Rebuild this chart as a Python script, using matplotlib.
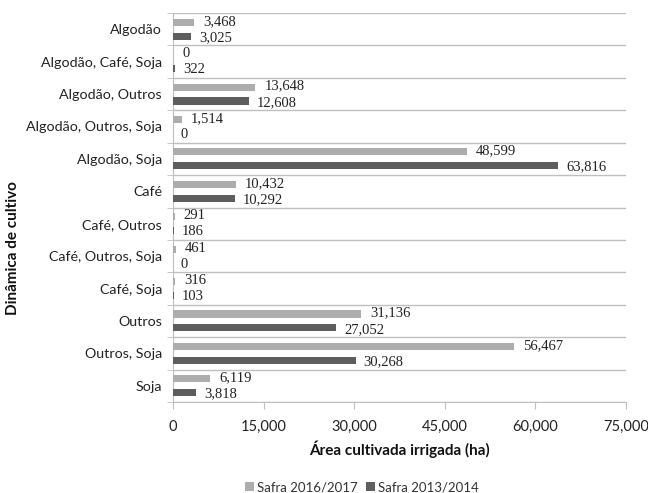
import matplotlib
matplotlib.use("Agg")
import matplotlib.pyplot as plt
import numpy as np
from matplotlib.ticker import FuncFormatter

categories = ["Algodão", "Algodão, Café, Soja", "Algodão, Outros", "Algodão, Outros, Soja",
              "Algodão, Soja", "Café", "Café, Outros", "Café, Outros, Soja", "Café, Soja",
              "Outros", "Outros, Soja", "Soja"]
safra_2016 = [3468, 0, 13648, 1514, 48599, 10432, 291, 461, 316, 31136, 56467, 6119]
safra_2013 = [3025, 322, 12608, 0, 63816, 10292, 186, 0, 103, 27052, 30268, 3818]
xticks = [0, 15000, 30000, 45000, 60000, 75000]

c_light = "#ADADAD"
c_dark = "#5E5E5E"
sans = "Lato"

fig = plt.figure(figsize=(6.48, 4.93), dpi=100)
ax = fig.add_axes([173/648, 1-402/493, (626-173)/648, (402-13)/493])

n = len(categories)
y = np.arange(n)
h = 0.22
off = 0.215
ax.barh(y - off, safra_2016, height=h, color=c_light, label="Safra 2016/2017", zorder=3)
ax.barh(y + off, safra_2013, height=h, color=c_dark, label="Safra 2013/2014", zorder=3)

for yi, v in zip(y, safra_2016):
    ax.text(v + 1500, yi - off - 0.03, f"{v:,}", va="center", ha="left",
            fontfamily="Liberation Serif", fontsize=10.5, color="#222222")
for yi, v in zip(y, safra_2013):
    ax.text(v + 1300, yi + off + 0.04, f"{v:,}", va="center", ha="left",
            fontfamily="Liberation Serif", fontsize=10.5, color="#222222")

ax.set_ylim(n - 0.5, -0.5)
ax.set_xlim(0, 75000)
ax.set_xticks(xticks)
ax.xaxis.set_major_formatter(FuncFormatter(lambda v, p: f"{int(v):,}"))
ax.set_yticks(y)
ax.set_yticklabels(categories)
ax.set_yticks(np.arange(n + 1) - 0.5, minor=True)
ax.tick_params(axis="y", which="major", length=0, pad=8, labelsize=10.3, labelcolor="#222222")
ax.tick_params(axis="y", which="minor", length=4, color="#BFBFBF")
ax.tick_params(axis="x", length=5, color="#BFBFBF", labelsize=10.5, labelcolor="#222222", pad=8)
ax.grid(axis="y", which="minor", color="#BFBFBF", linewidth=1, zorder=0)
for s in ["top", "right"]:
    ax.spines[s].set_visible(False)
ax.spines["left"].set_color("#BFBFBF")
ax.spines["bottom"].set_color("#BFBFBF")
for lbl in ax.get_xticklabels() + ax.get_yticklabels():
    lbl.set_fontfamily(sans)

ax.set_xlabel("Área cultivada irrigada (ha)", fontfamily=sans, fontweight="bold",
              fontsize=11, labelpad=5, color="#111111")
fig.text(13/648, 1-248/493, "Dinâmica de cultivo", rotation=90, va="center", ha="center",
         fontfamily=sans, fontweight="bold", fontsize=11, color="#111111")

leg = fig.legend(loc="center", bbox_to_anchor=(362/648, 1-487/493), ncol=2, frameon=False,
                 prop={"family": sans, "size": 9.5}, handlelength=0.7, handleheight=0.7,
                 columnspacing=0.6, handletextpad=0.25)
for t in leg.get_texts():
    t.set_color("#333333")

fig.savefig("out.png", dpi=100)
